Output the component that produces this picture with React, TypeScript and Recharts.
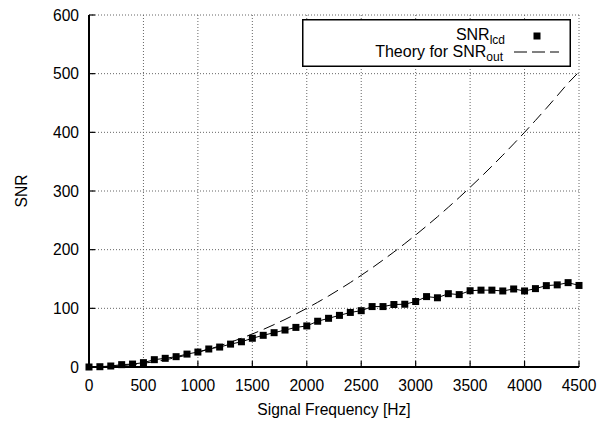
import React from 'react';
import {
  ComposedChart, Line, XAxis, YAxis, CartesianGrid, Legend, Label
} from 'recharts';

// signal frequency [Hz]
const freqs = [
  0, 100, 200, 300, 400, 500, 600, 700, 800, 900,
  1000, 1100, 1200, 1300, 1400, 1500, 1600, 1700, 1800, 1900,
  2000, 2100, 2200, 2300, 2400, 2500, 2600, 2700, 2800, 2900,
  3000, 3100, 3200, 3300, 3400, 3500, 3600, 3700, 3800, 3900,
  4000, 4100, 4200, 4300, 4400, 4500,
];

// measured SNR_lcd
const snrLcd = [
  0, 0.5, 1.7, 4, 5, 7.4, 12.5, 14.8, 17.6, 22,
  25.5, 30.7, 34, 39, 43, 49, 54, 58.5, 63, 67.5,
  70, 78, 83, 88, 93, 96, 103, 103, 106.5, 107,
  111.6, 120, 118, 125, 123.4, 130, 131, 131, 129.6, 133,
  129.6, 133.6, 138.7, 140, 143.8, 139,
];

// theory curve for SNR_out
const snrTheory = [
  0, 0.3, 1, 2.3, 4, 6.3, 9, 12.3, 16, 20.3,
  25, 30.3, 36, 42.3, 49, 56.3, 64, 72.3, 81, 90.3,
  100, 110.3, 121, 132.3, 144, 156.3, 169, 182.3, 196, 210.3,
  225, 240.3, 256, 272.3, 289, 306.3, 324, 342.3, 361, 380.3,
  400, 420.3, 441, 462.3, 484, 503,
];

const xTicks = [0, 500, 1000, 1500, 2000, 2500, 3000, 3500, 4000, 4500];
const yTicks = [0, 100, 200, 300, 400, 500, 600];

const data = freqs.map((f, i) => ({ freq: f, lcd: snrLcd[i], theory: snrTheory[i] }));

const FONT = '"Liberation Sans", Arial, Helvetica, sans-serif';
const tickStyle = { fill: '#000', fontSize: 15.6, fontFamily: FONT };
const blank = () => '';

const SquareDot = (props: any) => {
  const { cx, cy } = props;
  if (cx == null || cy == null) return null;
  return <rect x={cx - 3.5} y={cy - 3.5} width={7} height={7} fill="#000" />;
};

const LegendBox = () => (
  <svg width={269} height={48} style={{ display: 'block' }}>
    <rect x={0.75} y={0.75} width={267.5} height={46.5} fill="#fff" stroke="#000" strokeWidth={1.5} />
    <text x={203} y={21} textAnchor="end" fontFamily={FONT} fontSize={16} fill="#000">
      SNR<tspan dy={4} fontSize={12}>lcd</tspan>
    </text>
    <rect x={231.5} y={13.5} width={7} height={7} fill="#000" />
    <text x={201} y={37.5} textAnchor="end" fontFamily={FONT} fontSize={16} fill="#000">
      Theory for SNR<tspan dy={4} fontSize={12}>out</tspan>
    </text>
    <line x1={212} y1={33} x2={257} y2={33} stroke="#000" strokeWidth={1} strokeDasharray="13 5" />
  </svg>
);

const tickLineStyle = { stroke: '#000', strokeWidth: 1.2 };
const axisLineStyle = { stroke: '#000', strokeWidth: 2 };

const App: React.FC = () => {
  return (
    <div style={{ position: 'absolute', left: 0, top: 0, width: 600, height: 421, background: '#fff', fontFamily: FONT }}>
      <ComposedChart width={600} height={421} data={data} margin={{ top: 15, right: 21, bottom: 0, left: 0 }}>
        <CartesianGrid stroke="#666" strokeWidth={1} strokeDasharray="1 2" horizontalValues={yTicks} verticalValues={xTicks} />
        <XAxis
          dataKey="freq" type="number" domain={[0, 4500]} ticks={xTicks} interval={0}
          height={54} tickSize={-6} tickMargin={19} tick={tickStyle}
          axisLine={axisLineStyle} tickLine={tickLineStyle}
        >
          <Label
            content={() => (
              <text x={334} y={415} textAnchor="middle" fontFamily={FONT} fontSize={15.6} fill="#000">
                Signal Frequency [Hz]
              </text>
            )}
          />
        </XAxis>
        <XAxis
          xAxisId="top" orientation="top" dataKey="freq" type="number" domain={[0, 4500]} ticks={xTicks}
          interval={0} height={0} tickSize={-6} tickFormatter={blank}
          axisLine={axisLineStyle} tickLine={tickLineStyle}
        />
        <YAxis
          type="number" domain={[0, 600]} ticks={yTicks} interval={0} width={89}
          tickSize={-6} tickMargin={16} tick={tickStyle}
          axisLine={axisLineStyle} tickLine={tickLineStyle}
        >
          <Label
            content={() => (
              <text
                x={21} y={191} textAnchor="middle" dominantBaseline="central"
                transform="rotate(-90 21 191)" fontFamily={FONT} fontSize={15.6} fill="#000"
              >
                SNR
              </text>
            )}
          />
        </YAxis>
        <YAxis
          yAxisId="right" orientation="right" type="number" domain={[0, 600]} ticks={yTicks}
          interval={0} width={0} tickSize={-6} tickFormatter={blank}
          axisLine={axisLineStyle} tickLine={tickLineStyle}
        />
        <Legend
          layout="vertical" align="center" verticalAlign="middle"
          wrapperStyle={{ left: 302, top: 19, width: 269, height: 48 }}
          content={() => <LegendBox />}
        />
        <Line
          type="linear" dataKey="theory" stroke="#000" strokeWidth={1} strokeDasharray="12 6"
          dot={false} activeDot={false} isAnimationActive={false}
        />
        <Line
          type="linear" dataKey="lcd" stroke="#000" strokeWidth={1}
          dot={<SquareDot />} activeDot={false} isAnimationActive={false}
        />
      </ComposedChart>
    </div>
  );
};

export default App;
